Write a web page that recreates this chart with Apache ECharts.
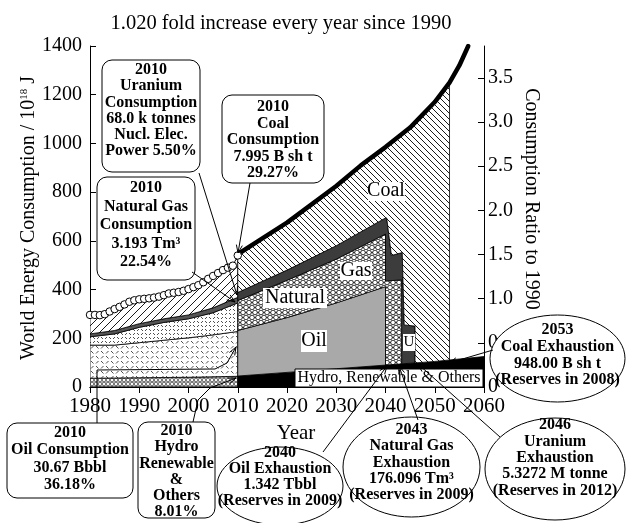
<!DOCTYPE html>
<html><head><meta charset="utf-8">
<script src="https://cdn.jsdelivr.net/npm/echarts@6/dist/echarts.min.js"></script>
<style>html,body{margin:0;padding:0;background:#fff}#c{width:626px;height:523px}</style>
</head><body><div id="c"></div>
<script>
// ================= DATA =================
const xTickYears = [1980, 1990, 2000, 2010, 2020, 2030, 2040, 2050, 2060];
const leftTicks = [0, 200, 400, 600, 800, 1000, 1200, 1400];
const ratioTicks = [0, 0.5, 1.0, 1.5, 2.0, 2.5, 3.0, 3.5];

// historic total consumption (circles), 1980..2010, 10^18 J
const histYears = [1980,1981,1982,1983,1984,1985,1986,1987,1988,1989,1990,1991,1992,1993,1994,1995,
                   1996,1997,1998,1999,2000,2001,2002,2003,2004,2005,2006,2007,2008,2009,2010];
const histTotal = [296,296,295,299,310,320,329,339,350,356,360,362,364,367,371,377,
                   384,387,390,395,402,410,418,430,444,456,468,480,490,498,540];

// historic stacked boundaries (cumulative tops), 10^18 J
const histStepYears = [1980, 1985, 1990, 1995, 2000, 2005, 2010];
const histHydroTop  = [36, 37, 38, 39, 40, 42, 44];
const histOilTop    = [172, 172, 182, 192, 202, 214, 228];
const histGasTop    = [206, 218, 245, 265, 280, 305, 345];
const histNucTop    = [218, 232, 260, 280, 296, 325, 368];

// projected stacked boundaries (cumulative tops) [year, value]
const futHydroTop = [[2010,45],[2020,60],[2030,75],[2040,90],[2050,105],[2060,125]];
const futOilTop   = [[2010,232],[2020,285],[2030,345],[2040,412]];
const futGasTop   = [[2010,355],[2020,438],[2030,525],[2040,628],[2040,435],[2043.3,440]];
const futNucTop   = [[2010,388],[2020,480],[2030,580],[2040,694],[2040.25,694],[2041.2,540],[2043.4,552],[2043.8,255],[2046,250]];
// total consumption growing 1.020-fold per year (thick curve)
const totalCurve  = [[2010,545],[2015,610],[2020,675],[2025,750],[2030,825],[2035,910],[2040,985],
                     [2045,1065],[2050,1170],[2053,1250],[2055,1320],[2056.8,1400]];
// exhaustion years
const oilExhaust = 2040, gasExhaust = 2043.3, nucExhaust = 2046, coalExhaust = 2053;

// ================= helpers =================
const F = "'Liberation Serif','Times New Roman',serif";
function interp(arr, x) {
  for (let i = 0; i < arr.length - 1; i++) {
    const a = arr[i], b = arr[i + 1];
    if (x >= a[0] && x <= b[0] && b[0] !== a[0]) return a[1] + (b[1] - a[1]) * (x - a[0]) / (b[0] - a[0]);
  }
  return arr[arr.length - 1][1];
}
function slice(arr, x0, x1) {
  const out = [[x0, interp(arr, x0)]];
  arr.forEach(p => { if (p[0] > x0 && p[0] < x1) out.push(p); });
  out.push([x1, interp(arr, x1)]);
  return out;
}
const zip = (xs, ys) => xs.map((x, i) => [x, ys[i]]);

function mkPattern(w, h, draw) {
  const c = document.createElement('canvas'); c.width = w; c.height = h;
  const g = c.getContext('2d');
  g.fillStyle = '#fff'; g.fillRect(0, 0, w, h);
  g.strokeStyle = '#000'; g.fillStyle = '#000';
  draw(g);
  return { image: c, repeat: 'repeat' };
}
const patCoalFut = mkPattern(6, 6, g => { g.lineWidth = 0.9; g.beginPath();
  g.moveTo(0,0); g.lineTo(6,6); g.moveTo(-1,5); g.lineTo(1,7); g.moveTo(5,-1); g.lineTo(7,1); g.stroke(); });
const patCoalHist = mkPattern(8, 8, g => { g.lineWidth = 0.9; g.beginPath();
  g.moveTo(0,8); g.lineTo(8,0); g.moveTo(-1,1); g.lineTo(1,-1); g.moveTo(7,9); g.lineTo(9,7); g.stroke(); });
const patGasFut = mkPattern(6, 10, g => { g.lineWidth = 0.8;
  [[3,2.5],[0,7.5],[6,7.5]].forEach(([x,y]) => { g.beginPath(); g.arc(x,y,2.3,0,Math.PI*2); g.stroke(); });
  [[0,2.5],[6,2.5],[3,7.5]].forEach(([x,y]) => { g.beginPath(); g.arc(x,y,0.7,0,Math.PI*2); g.fill(); }); });
const patHistOil = mkPattern(10, 10, g => { g.lineWidth = 0.8; g.strokeStyle = '#222'; g.beginPath();
  g.moveTo(1,1); g.lineTo(3.5,3.5); g.moveTo(6,3.5); g.lineTo(8.5,1);
  g.moveTo(1,8.5); g.lineTo(3.5,6); g.moveTo(6,6); g.lineTo(8.5,8.5); g.stroke(); });
const patHistGas = mkPattern(8, 8, g => { g.lineWidth = 0.8; g.strokeStyle = '#222'; g.beginPath();
  g.moveTo(1,3); g.lineTo(3,1); g.moveTo(5,7); g.lineTo(7,5); g.moveTo(5,1); g.lineTo(7,3); g.moveTo(1,5); g.lineTo(3,7); g.stroke(); });
const patHistHydro = mkPattern(4, 4, g => { g.lineWidth = 0.7;
  g.beginPath(); g.arc(2, 2, 1.4, 0, Math.PI * 2); g.stroke(); });

function band(upper, lower, fill, z) {
  return {
    type: 'custom', coordinateSystem: 'cartesian2d', xAxisIndex: 0, yAxisIndex: 0,
    clip: true, silent: true, z: z || 2, data: upper, encode: { x: 0, y: 1 },
    renderItem(params, api) {
      if (params.dataIndex !== 0) return null;
      const pts = upper.map(p => api.coord(p)).concat(lower.slice().reverse().map(p => api.coord(p)));
      return { type: 'polygon', shape: { points: pts }, style: { fill: fill, stroke: '#000', lineWidth: 0.8 } };
    }
  };
}

// ---- historic bands
const hZero = histStepYears.map(y => [y, 0]);
const hHydro = zip(histStepYears, histHydroTop), hOil = zip(histStepYears, histOilTop),
      hGas = zip(histStepYears, histGasTop), hNuc = zip(histStepYears, histNucTop),
      hTot = zip(histYears, histTotal);
// ---- projected bands
const fZero = [[2010, 0], [2060, 0]];
const fOilLower = slice(futHydroTop, 2010, oilExhaust);
const fGasLower = futOilTop.concat(slice(futHydroTop, oilExhaust, gasExhaust));
const fNucLower = futGasTop.concat(slice(futHydroTop, gasExhaust, nucExhaust));
const fCoalLower = futNucTop.concat(slice(futHydroTop, nucExhaust, coalExhaust));
const fCoalUpper = totalCurve.filter(p => p[0] <= coalExhaust);

const series = [
  band(hHydro, hZero, patHistHydro),
  band(hOil, hHydro, patHistOil),
  band(hGas, hOil, patHistGas),
  band(hNuc, hGas, '#555'),
  band(hTot, hNuc, patCoalHist),
  band(futHydroTop, fZero, '#000'),
  band(futOilTop, fOilLower, '#a9a9a9'),
  band(futGasTop, fGasLower, patGasFut),
  band(futNucTop, fNucLower, '#3c3c3c'),
  band(fCoalUpper, fCoalLower, patCoalFut),
  { type: 'line', data: totalCurve, showSymbol: false, clip: true, z: 6, silent: true,
    lineStyle: { color: '#000', width: 4.5, cap: 'round', join: 'round' } },
  { type: 'scatter', data: hTot, symbol: 'circle', symbolSize: 7.5, z: 7, silent: true,
    itemStyle: { color: '#fff', borderColor: '#000', borderWidth: 1, opacity: 1 } }
];

// ---- annotations
const G = [];
function txt(x, y, s, size, opt) {
  G.push({ type: 'text', z: 70, rotation: (opt && opt.rot) || 0, x: x, y: y,
    style: { text: s, x: 0, y: 0, fill: '#000', rich: opt && opt.rich,
    font: (opt && opt.bold ? 'bold ' : '') + size + 'px ' + F, align: 'center', verticalAlign: 'middle' } });
}
function whiteRect(x, y, w, h, stroke, r) {
  G.push({ type: 'rect', z: 65, shape: { x: x, y: y, width: w, height: h, r: r || 0 },
    style: { fill: '#fff', stroke: stroke ? '#000' : null, lineWidth: 1 } });
}
function multi(cx, firstY, lh, lines) {
  lines.forEach((s, i) => txt(cx, firstY + i * lh, s, 16, { bold: true }));
}
function leader(pts) {
  G.push({ type: 'polyline', z: 68, shape: { points: pts }, style: { stroke: '#000', lineWidth: 1, fill: null } });
  const [x1, y1] = pts[pts.length - 2], [x2, y2] = pts[pts.length - 1];
  const a = Math.atan2(y2 - y1, x2 - x1), L = 8, W = 3;
  const bx = x2 - L * Math.cos(a), by = y2 - L * Math.sin(a);
  G.push({ type: 'polyline', z: 68, shape: { points: [[bx + W * Math.sin(a), by - W * Math.cos(a)], [x2, y2], [bx - W * Math.sin(a), by + W * Math.cos(a)]] },
    style: { stroke: '#000', lineWidth: 1, fill: null } });
}
function ellipse(cx, cy, rx, ry) {
  G.push({ type: 'ellipse', z: 65, shape: { cx: cx, cy: cy, rx: rx, ry: ry }, style: { fill: '#fff', stroke: '#000', lineWidth: 1 } });
}

// title and axis names
txt(281, 24, '1.020 fold increase every year since 1990', 20.5);
txt(531, 199, 'Consumption Ratio to 1990', 20, { rot: -Math.PI / 2 });
txt(29, 218, 'World Energy Consumption / 10{s|18} J', 20, { rot: Math.PI / 2,
  rich: { s: { font: '11px ' + F, fill: '#000', padding: [0, 0, 9, 0] } } });

// leaders
leader([[199, 173], [237, 295]]);
leader([[250, 183], [238, 253]]);
leader([[192, 272], [235, 302]]);
leader([[97, 423], [97, 370], [215, 369], [227, 363], [236, 347]]);
leader([[193, 422], [198, 400], [210, 388], [236, 378]]);
leader([[323, 452], [387, 366]]);
leader([[418, 420], [399, 366]]);
leader([[500, 437], [418, 364]]);
leader([[493, 350], [449, 363]]);

// callout boxes
whiteRect(102, 60, 98, 112, true, 10);
multi(151, 70, 16.2, ['2010', 'Uranium', 'Consumption', '68.0 k tonnes', 'Nucl. Elec.', 'Power 5.50%']);
whiteRect(222, 95, 102, 88, true, 10);
multi(273, 107, 16.5, ['2010', 'Coal', 'Consumption', '7.995 B sh t', '29.27%']);
whiteRect(97, 177, 98, 103, true, 10);
multi(146, 188, 18.5, ['2010', 'Natural Gas', 'Consumption', '3.193 Tm³', '22.54%']);
whiteRect(7, 423, 126, 75, true, 10);
multi(70, 433, 17.3, ['2010', 'Oil Consumption', '30.67 Bbbl', '36.18%']);
whiteRect(138, 422, 77, 96, true, 10);
multi(176.5, 431, 16.2, ['2010', 'Hydro', 'Renewable', '&', 'Others', '8.01%']);

// ellipses
ellipse(280, 486, 63, 39);
multi(280, 453, 16, ['2040', 'Oil Exhaustion', '1.342 Tbbl', '(Reserves in 2009)']);
ellipse(411.5, 467, 68.5, 50);
multi(411.5, 430, 16.3, ['2043', 'Natural Gas', 'Exhaustion', '176.096 Tm³', '(Reserves in 2009)']);
ellipse(555, 469, 70, 51);
multi(555, 425, 16.4, ['2046', 'Uranium', 'Exhaustion', '5.3272 M tonne', '(Reserves in 2012)']);
ellipse(557.5, 358.5, 67.5, 43.5);
multi(557.5, 330, 16.7, ['2053', 'Coal Exhaustion', '948.00 B sh t', '(Reserves in 2008)']);

// in-plot labels
whiteRect(368, 182, 37, 19);
txt(386, 191, 'Coal', 20);
whiteRect(340, 262, 32, 18);
txt(356, 271, 'Gas', 20);
whiteRect(263, 288, 64, 20);
txt(295, 298, 'Natural', 20);
whiteRect(301, 330, 26, 22);
txt(314, 341, 'Oil', 20);
whiteRect(403, 334, 12, 17);
txt(409, 342, 'U', 15);
whiteRect(295, 369, 188, 18, true);
txt(389, 378, 'Hydro, Renewable & Others', 16);

const axisCommon = {
  axisLine: { show: true, lineStyle: { color: '#000', width: 1 } },
  axisTick: { show: true, inside: true, length: 6, lineStyle: { color: '#000', width: 1 } },
  splitLine: { show: false }
};

const chart = echarts.init(document.getElementById('c'), null, { renderer: 'canvas' });
chart.setOption({
  animation: false,
  backgroundColor: '#fff',
  grid: { left: 90, top: 46, width: 394, height: 341, show: false },
  xAxis: [
    Object.assign({ type: 'value', min: xTickYears[0], max: xTickYears[xTickYears.length - 1], interval: 10, position: 'bottom',
      name: 'Year', nameLocation: 'middle', nameGap: 36,
      nameTextStyle: { fontFamily: F, fontSize: 21, color: '#000', padding: [0, 0, 0, 18] },
      axisLabel: { fontFamily: F, fontSize: 21, color: '#000', margin: 9, formatter: v => String(v) } }, axisCommon),
    Object.assign({ type: 'value', min: xTickYears[0], max: xTickYears[xTickYears.length - 1], interval: 10, position: 'top',
      axisLabel: { show: false } }, axisCommon)
  ],
  yAxis: [
    Object.assign({ type: 'value', min: leftTicks[0], max: leftTicks[leftTicks.length - 1], interval: 200, position: 'left',
      axisLabel: { fontFamily: F, fontSize: 20, color: '#000', margin: 8, formatter: v => String(v) } }, axisCommon),
    Object.assign({ type: 'value', min: 0, max: 3.86, interval: 0.5, position: 'right',
      axisLabel: { fontFamily: F, fontSize: 20, color: '#000', margin: 4, showMaxLabel: false,
        formatter: v => (v === 0 ? '0' : v.toFixed(1)) } }, axisCommon)
  ],
  series: series,
  graphic: { elements: G }
});
</script>
</body></html>
